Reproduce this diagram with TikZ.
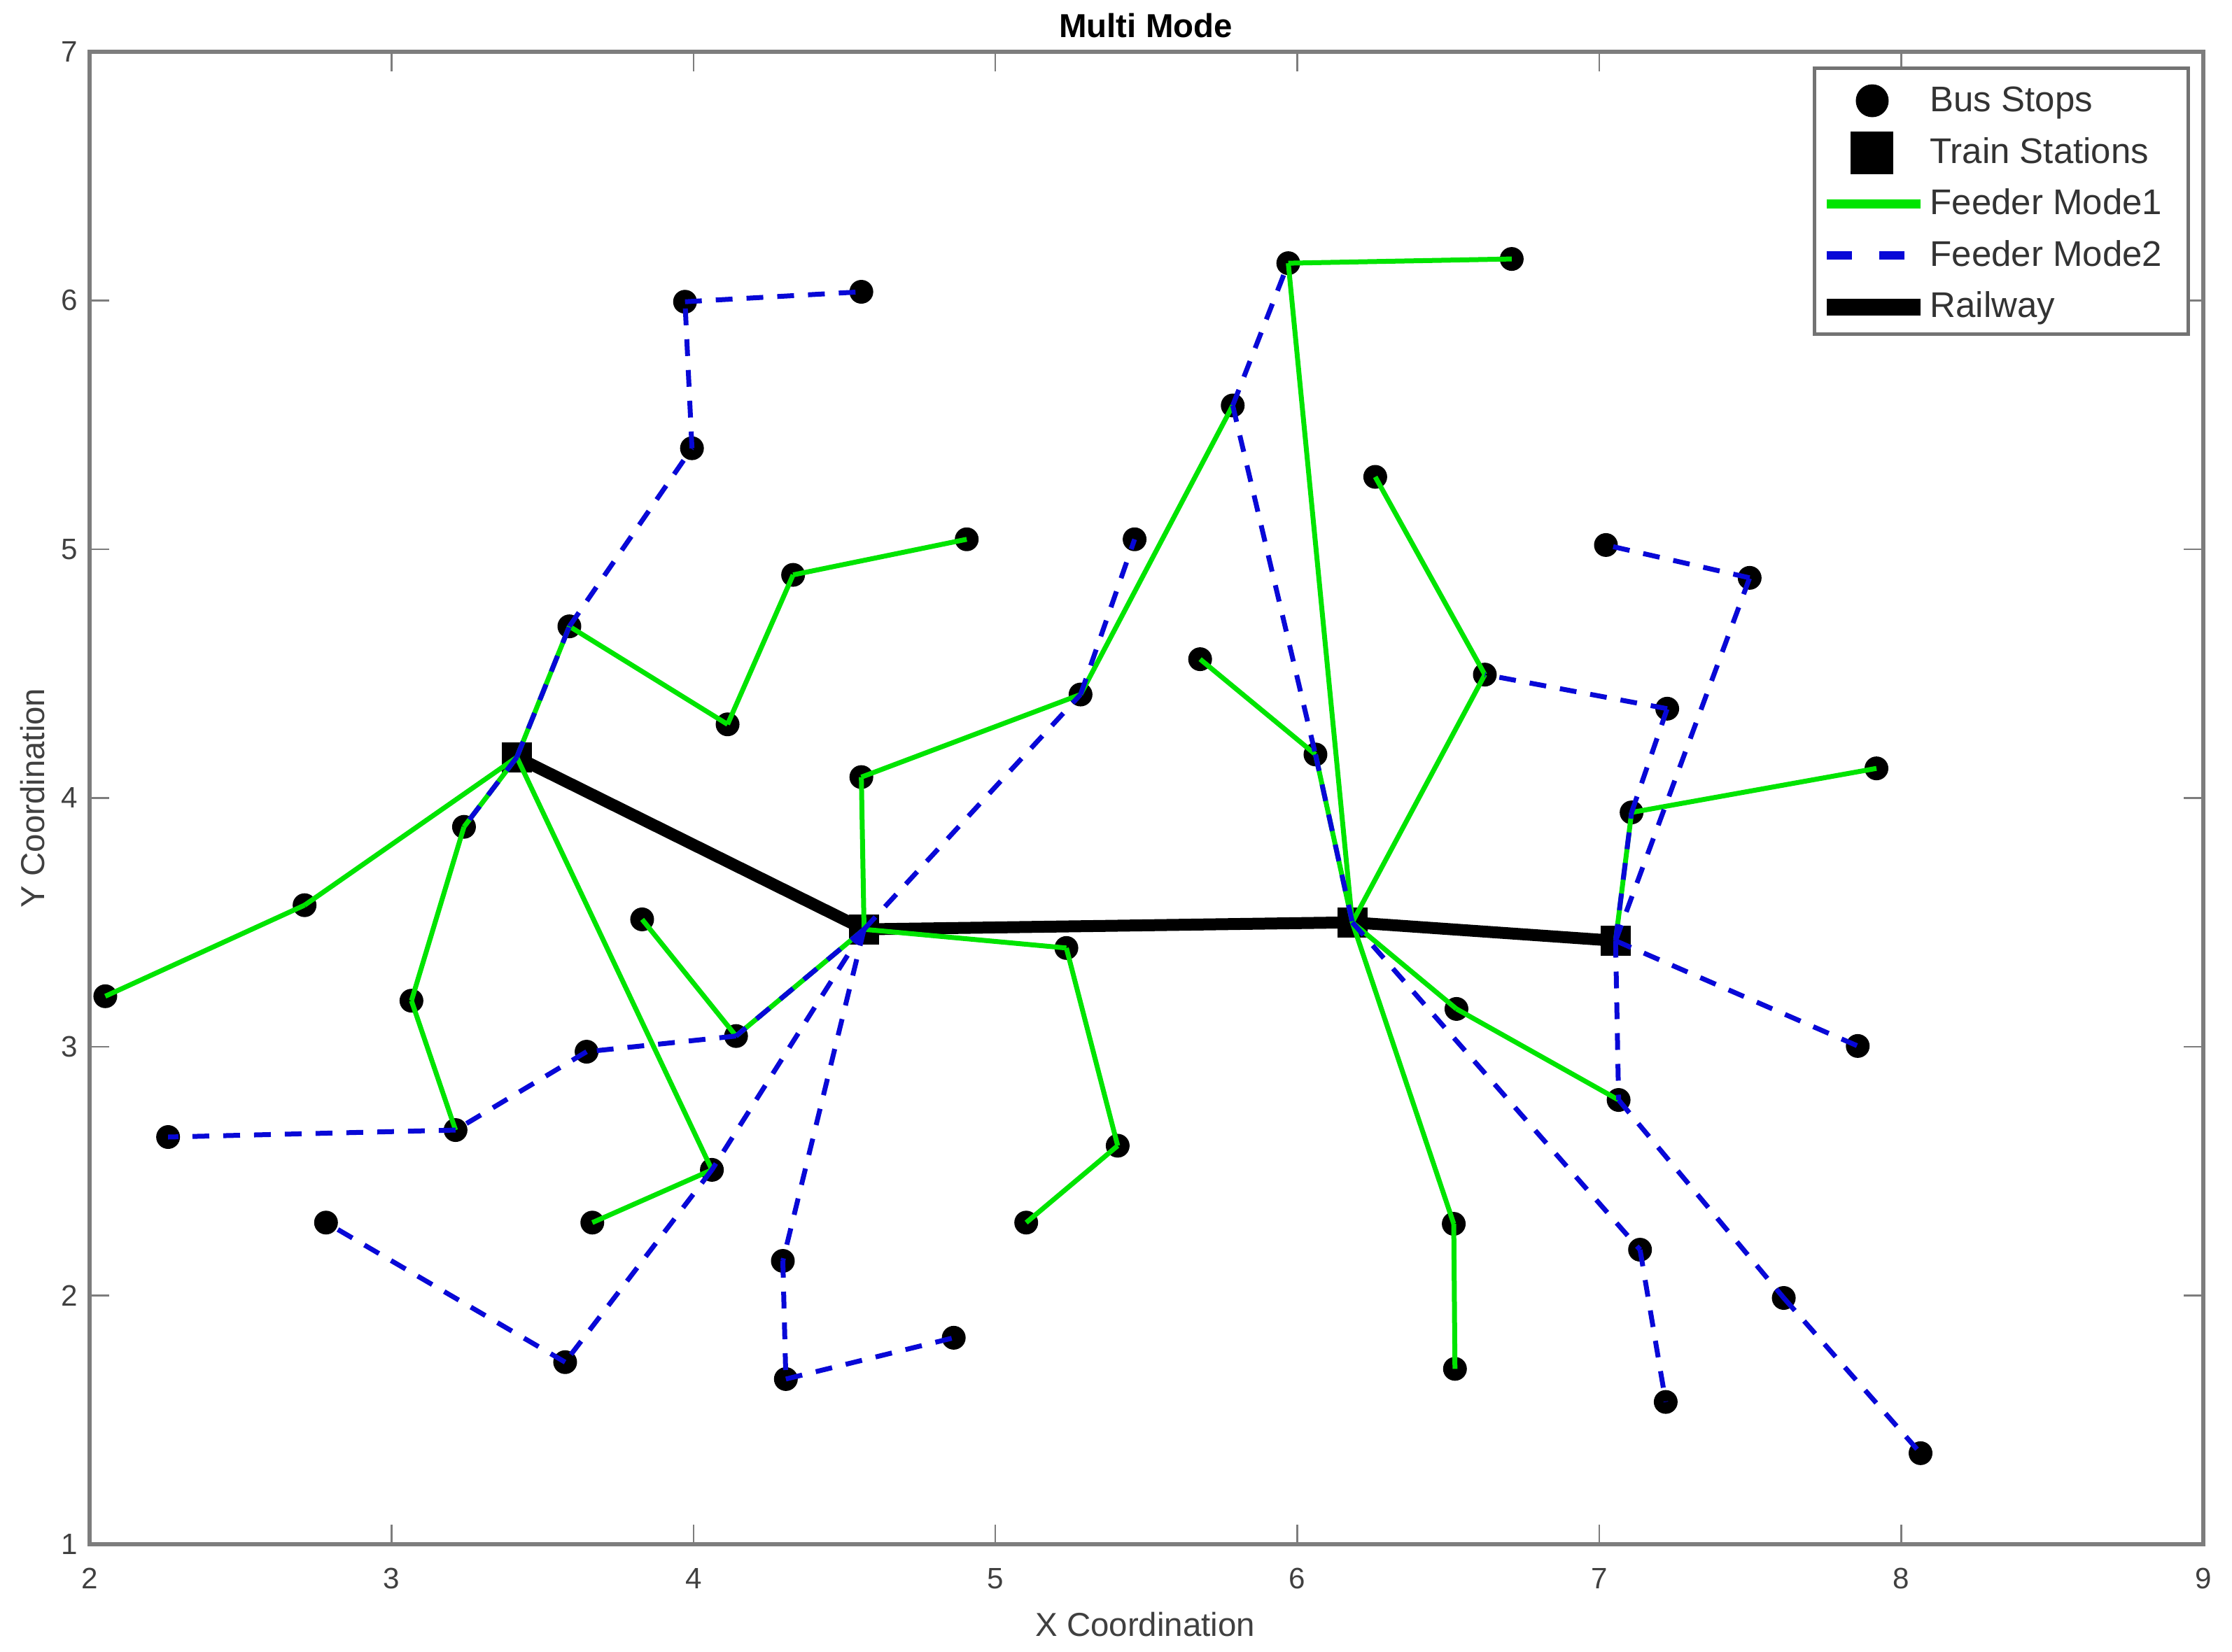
\documentclass[tikz,border=0pt]{standalone}
\usepackage{fontspec}
\setmainfont{Liberation Sans}
\definecolor{feedgreen}{RGB}{0,228,0}
\definecolor{feedblue}{RGB}{8,8,215}
\definecolor{axisgray}{RGB}{125,125,125}
\begin{document}
\begin{tikzpicture}[x=4.314cm,y=3.555cm,
    stop/.style={circle,fill=black,inner sep=0pt,minimum size=0.34cm},
    station/.style={rectangle,fill=black,inner sep=0pt,minimum size=0.43cm},
    feederone/.style={feedgreen,line width=0.07cm},
    feedertwo/.style={feedblue,line width=0.07cm,dash pattern=on 0.24cm off 0.2cm},
    railway/.style={black,line width=0.17cm},
    ticklabel/.style={text=black!75,font=\fontsize{12}{14}\selectfont,inner sep=0pt},
    axislabel/.style={text=black!75,font=\fontsize{13.5}{16}\selectfont,inner sep=0pt},
    legtext/.style={text=black!80,font=\fontsize{14.5}{17}\selectfont,inner sep=0pt,anchor=mid west}]
  \def\ticklen{0.28cm}
  \useasboundingbox (1.7033,0.5668) rectangle (9.0956,7.2082);
  % axes
  \foreach \x in {3,...,8} {
      \draw[axisgray,line width=0.025cm] (\x,1) -- ++(0,\ticklen);
      \draw[axisgray,line width=0.025cm] (\x,7) -- ++(0,-\ticklen);
  }
  \foreach \y in {2,...,6} {
      \draw[axisgray,line width=0.025cm] (2,\y) -- ++(\ticklen,0);
      \draw[axisgray,line width=0.025cm] (9,\y) -- ++(-\ticklen,0);
  }
  \draw[axisgray,line width=0.06cm] (2,1) rectangle (9,7);
  \foreach \x in {2,...,9}
      \node[ticklabel] (xt\x) at (\x,0.862) {\x};
  \foreach \y in {1,...,7}
      \node[ticklabel,anchor=east] (yt\y) at (1.963,\y) {\y};
  \node[font=\bfseries\fontsize{13.5}{16}\selectfont,inner sep=0pt] (title) at (5.498,7.104) {Multi Mode};
  \node[axislabel] (xlabel) at (5.496,0.677) {X Coordination};
  \node[axislabel,rotate=90] (ylabel) at (1.812,4.0) {Y Coordination};
  % bus stops
  \foreach \n/\x/\y in {b1/2.052/3.203, b2/2.712/3.569, b3/3.240/3.884, b4/3.066/3.185,
      b5/3.212/2.665, b6/2.260/2.637, b7/3.646/2.980, b8/4.141/3.043, b9/3.830/3.512,
      b10/4.061/2.505, b11/3.665/2.293, b12/2.783/2.293, b13/3.575/1.732, b14/4.296/2.139,
      b15/4.306/1.664, b16/4.862/1.830, b17/3.589/4.690, b18/3.995/5.406, b19/3.972/5.995,
      b20/4.556/6.035, b21/4.113/4.296, b22/4.330/4.897, b23/4.905/5.040, b24/4.556/4.084,
      b25/5.282/4.416, b26/5.461/5.040, b27/5.786/5.578, b28/5.970/6.150, b29/6.710/6.167,
      b30/5.235/3.397, b31/5.405/2.602, b32/5.102/2.293, b33/5.678/4.558, b34/6.060/4.175,
      b35/6.258/5.291, b36/6.621/4.496, b37/7.022/5.017, b38/7.498/4.885, b39/7.225/4.359,
      b40/7.107/3.942, b41/7.918/4.119, b42/7.856/3.003, b43/6.527/3.152, b44/7.064/2.786,
      b45/6.518/2.288, b46/6.522/1.705, b47/7.135/2.184, b48/7.220/1.572, b49/7.611/1.990,
      b50/8.064/1.366}
      \node[stop] (\n) at (\x,\y) {};
  % train stations
  \foreach \n/\x/\y in {S1/3.415/4.164, S2/4.565/3.472, S3/6.182/3.500, S4/7.054/3.426}
      \node[station] (\n) at (\x,\y) {};
  \draw[railway] (S1.center) -- (S2.center) -- (S3.center) -- (S4.center);
  \foreach \a/\b in {S1/b2, b2/b1, S1/b3, b3/b4, b4/b5, S1/b10, b10/b11, S1/b17, b17/b21,
      b21/b22, b22/b23, b9/b8, b8/S2, S2/b24, b24/b25, b25/b27, b28/b29, b28/S3, S2/b30,
      b30/b31, b31/b32, b33/b34, b34/S3, S3/b36, b36/b35, S3/b43, b43/b44, S3/b45, b45/b46,
      S4/b40, b40/b41}
      \draw[feederone] (\a.center) -- (\b.center); % mode 1
  \foreach \a/\b in {S1/b3, S1/b17, b17/b18, b18/b19, b19/b20, S2/b8, b8/b7, b7/b5, b5/b6,
      S2/b10, b10/b13, b13/b12, S2/b14, b14/b15, b15/b16, S2/b25, b25/b26, b27/b28, b27/b34,
      b34/S3, S3/b47, b47/b48, S4/b44, b44/b49, b49/b50, S4/b42, S4/b40, b40/b39, b39/b36,
      S4/b38, b38/b37}
      \draw[feedertwo] (\a.center) -- (\b.center); % mode 2
  % legend
  \draw[black!55,line width=0.05cm,fill=white] (7.712,5.866) rectangle (8.950,6.935);
  \node[stop,minimum size=0.47cm] (lstop) at (7.904,6.803) {};
  \node[station,minimum size=0.61cm] (lstation) at (7.904,6.594) {};
  \coordinate (lgA) at (7.753,6.388);
  \coordinate (lgB) at (8.064,6.388);
  \coordinate (lbA) at (7.753,6.180);
  \coordinate (lbB) at (8.064,6.180);
  \coordinate (lrA) at (7.753,5.972);
  \coordinate (lrB) at (8.064,5.972);
  \draw[feederone,line width=0.13cm] (lgA) -- (lgB);
  \draw[feedertwo,line width=0.12cm,dash pattern=on 0.36cm off 0.39cm] (lbA) -- (lbB);
  \draw[railway,line width=0.24cm] (lrA) -- (lrB);
  \node[legtext] (tstop) at (8.094,6.786) {Bus Stops};
  \node[legtext] (tstation) at (8.094,6.578) {Train Stations};
  \node[legtext] (tone) at (8.094,6.372) {Feeder Mode1};
  \node[legtext] (ttwo) at (8.094,6.164) {Feeder Mode2};
  \node[legtext] (trail) at (8.094,5.958) {Railway};
\end{tikzpicture}
\end{document}
